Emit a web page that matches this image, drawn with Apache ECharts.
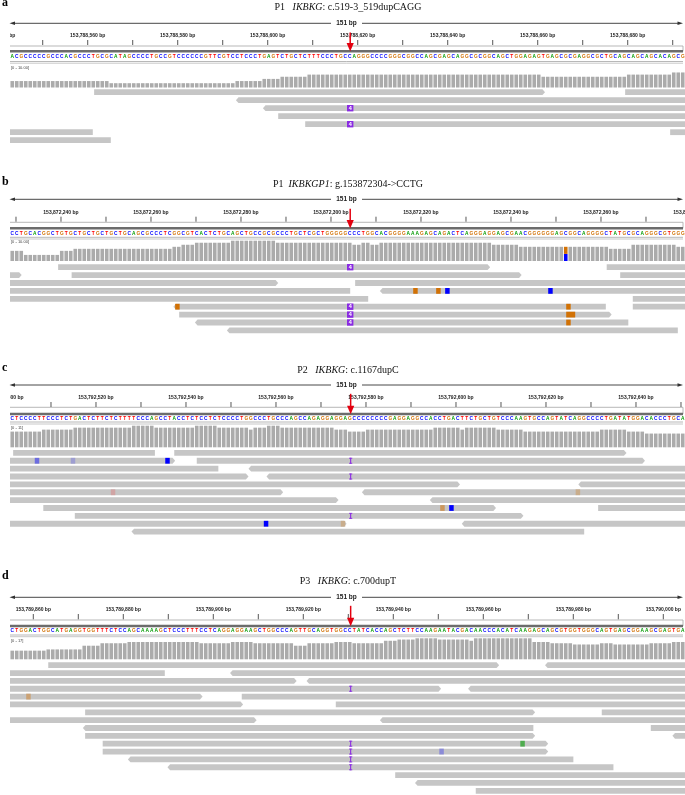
<!DOCTYPE html>
<html><head><meta charset="utf-8">
<script src="https://cdn.jsdelivr.net/npm/echarts@6/dist/echarts.min.js"></script>
<style>html,body{margin:0;padding:0;background:#fff}#c{width:685px;height:795px}</style>
</head><body><div id="c"></div>
<script>
// ---------------- DATA ----------------
const panelLetters = ['a','b','c','d'];
const titlePrefix = ['P1   ','P1  ','P2   ','P3   '];
const titleGene = ['IKBKG','IKBKGP1','IKBKG','IKBKG'];
const titleVariant = [': c.519-3_519dupCAGG',': g.153872304->CCTG',': c.1167dupC',': c.700dupT'];
const spanText = '151 bp';
const covRangeLabels = ['[0 - 10.00]','[0 - 10.00]','[0 - 11]','[0 - 17]'];
const covMax = [10,10,11,17];
// genomic coordinate at left edge of each window
const winStart = [153788542.73, 153872228.67, 153792500.89, 153789854.82];
const mutationPos = [75.6, 75.6, 75.7, 75.7];   // bp offset of red arrow
const insLength = [4,4,1,1];

const rulerLabelsA = [153788540,153788560,153788580,153788600,153788620,153788640,153788660,153788680];
const rulerLabelsB = [153872240,153872260,153872280,153872300,153872320,153872340,153872360,153872380];
const rulerLabelsC = [153792500,153792520,153792540,153792560,153792580,153792600,153792620,153792640];
const rulerLabelsD = [153789860,153789880,153789900,153789920,153789940,153789960,153789980,153790000];
const rulerTicksA = [153788550,153788560,153788570,153788580,153788590,153788600,153788610,153788620,153788630,153788640,153788650,153788660,153788670,153788680,153788690];
const rulerTicksB = [153872230,153872240,153872250,153872260,153872270,153872280,153872290,153872300,153872310,153872320,153872330,153872340,153872350,153872360,153872370];
const rulerTicksC = [153792510,153792520,153792530,153792540,153792550,153792560,153792570,153792580,153792590,153792600,153792610,153792620,153792630,153792640,153792650];
const rulerTicksD = [153789860,153789870,153789880,153789890,153789900,153789910,153789920,153789930,153789940,153789950,153789960,153789970,153789980,153789990,153790000];

const seqA = ['ACGCCCCCGC','CCACGCCCTG','CGCATAGCCC','CTGCCGTCCC','CCCGTTCGTC','CTCCCTGAGT','CTGCTCTTTC','CCTGCCAGGG','CCCCGGGCGG','CCAGCGAGCA','GGCGCGGCAG','CTGGAGAGTG','AGCGCGAGGC','GCTGCAGCAG','CAGCACAGCG'].join('');
const seqB = ['CCTGCACGGC','TGTGCTGCTG','CTGCTGCAGC','GCCCTCGGCG','TCACTCTGCA','GCTGCCGCGC','CCTGCTCGCT','GGGGGCCCTG','GCACGGGGAA','AGAGCAGACT','CAGGGAGGAG','CGAACGGGGG','GAGCGGCAGG','GGCTATGCGC','AGGGCGTGGG'].join('');
const seqC = ['CTCCCCTTCC','CTCTGACTCT','TCTCTTTTCC','CAGCCTACCT','CTCCTCTCCC','CTGGCCCTGC','CCAGCCAGAG','GAGGAGCCCC','CCCCGAGGAG','GCCACCTGAC','TTCTGCTGTC','CCAAGTGCCA','GTATCAGGCC','CCTGATATGG','ACACCCTGCA'].join('');
const seqD = ['CTGGACTGGC','ATGAGGTGGT','TTCTCCAGCA','AAAGCTCCCT','TTCCTCAGGA','GGAAGCTGGC','CCAGTTGCAG','GTGGCCTATC','ACCAGCTCTT','CCAAGAATAC','GACAACCCAC','ATCAAGAGCA','GCGTGGTGGG','CAGTGAGCGG','AAGCGAGTGA'].join('');

// coverage runs [startBp, endBp, depth]
const covA = [[0,22,3],[22,50,2],[50,56,3],[56,60,4],[60,66,5],[66,118,6],[118,137,5],[137,147,6],[147,150,7]];
const covB = [[0,3,5],[3,11,3],[11,14,5],[14,36,6],[36,38,7],[38,41,8],[41,49,9],[49,59,10],[59,74,9],[74,76,9],[76,78,8],[78,80,9],[80,82,8],[82,107,9],[107,113,8],[113,123,7],[124,133,7],[133,138,6],[138,148,8],[148,150,7]];
const covC = [[0,7,8],[7,14,9],[14,27,10],[27,32,11],[32,41,10],[41,46,11],[46,53,10],[53,54,9],[54,57,10],[57,60,11],[60,72,10],[72,75,9],[75,79,8],[79,94,9],[94,100,10],[100,101,9],[101,108,10],[108,114,9],[114,131,8],[131,137,9],[137,141,8],[141,150,7]];
const covD = [[0,8,7],[8,16,8],[16,20,11],[20,26,13],[26,42,14],[42,49,13],[49,54,14],[54,63,13],[63,66,11],[66,72,13],[72,76,14],[76,83,13],[83,86,15],[86,90,16],[90,95,17],[95,102,16],[102,103,15],[103,116,17],[116,120,14],[120,125,13],[125,131,12],[131,134,13],[134,142,12],[142,147,13],[147,150,14]];
// coverage allele split [bp, base, from, to]
const alleleA = [];
const alleleB = [[123,'C',0,3.5],[123,'G',3.5,7]];
const alleleC = [];
const alleleD = [];

// reads [row, start, end, strand(1 fwd, -1 rev, 0 none)]
const readsA = [[0,18.7,118.9,1],[0,136.7,150,0],[1,50.2,150,-1],[2,56.2,150,-1],[3,59.6,150,0],[4,65.6,150,0],[5,0,18.4,0],[5,146.7,150,0],[6,0,22.4,0]];
const readsB = [[0,10.7,106.7,1],[0,132.6,150,0],[1,0,2.6,1],[1,13.7,113.7,1],[1,135.6,150,0],[2,0,59.6,1],[2,76.7,150,0],[3,0,75.6,0],[3,82.2,150,-1],[4,0,79.6,0],[4,138.4,150,0],[5,36.3,132.4,-1],[5,138.4,150,0],[6,37.6,133.7,1],[7,41.1,137.4,-1],[8,48.2,148.4,-1]];
const readsC = [[0,0.7,32.2,0],[0,36.5,137.0,1],[1,0,36.7,1],[1,41.5,141.1,1],[2,0,46.3,0],[2,53,150,-1],[3,0,53,1],[3,57,150,-1],[4,0,100,1],[4,126.3,150,-1],[5,0,60.7,1],[5,78.2,150,-1],[6,0,73,1],[6,93.3,150,-1],[7,7.4,108,1],[7,130.7,150,0],[8,14.4,114.1,1],[9,0,74.8,1],[9,100.4,150,-1],[10,27,127.6,-1]];
const readsD = [[0,8.5,108.7,1],[0,118.9,150,-1],[1,0,34.4,0],[1,48.9,150,-1],[2,0,63.7,1],[2,65.9,150,-1],[3,0,95.8,1],[3,101.8,150,-1],[4,0,42.8,1],[4,51.5,150,0],[5,0,51.8,1],[5,72.4,150,0],[6,16.7,116.7,1],[6,131.5,150,0],[7,0,54.8,1],[7,82.2,150,-1],[8,16.2,116.3,-1],[8,142.4,150,0],[9,16.7,116.7,1],[9,147.2,150,-1],[10,20.6,119.6,1],[11,20.6,119.6,1],[12,26.2,125.2,-1],[13,35,134.1,-1],[14,85.6,150,0],[15,90,150,-1],[16,103.5,150,0]];

// insertions [row, bp]
const insA = [[2,75.6],[4,75.6]];
const insB = [[0,75.6],[5,75.6],[6,75.6],[7,75.6]];
const insC = [[1,75.7],[3,75.7],[8,75.7]];
const insD = [[3,75.7],[10,75.7],[11,75.7],[12,75.7],[13,75.7]];

// mismatches [row, bp, widthBp, base, quality]
const mmA = [];
const mmB = [[3,89.6,1,'G',1],[3,94.7,1,'G',1],[3,96.7,1,'C',1],[3,119.6,1,'C',1],[5,36.7,1,'G',1],[5,123.6,1,'G',1],[6,123.6,2,'G',1],[7,123.6,1,'G',1]];
const mmC = [[1,5.5,1,'C',0.45],[1,13.5,1,'C',0.2],[1,34.5,1,'C',1],[5,22.4,1,'T',0.17],[5,125.7,1,'G',0.3],[7,95.6,1,'G',0.55],[7,97.6,1,'C',1],[9,56.4,1,'C',1],[9,73.5,1,'G',0.3]];
const mmD = [[4,3.6,1,'G',0.42],[10,113.4,1,'A',0.6],[11,95.4,1,'C',0.3]];

// ---------------- LAYOUT / STYLE ----------------
const LAY = [
 {letter:3.2, title:7.5, span:23.3, tickLab:36, tickT:40, tickB:45, base:46, seqBar:51.3, seq:57, seqL1:61.5, seqL2:63.2, covLab:68, covTop:66, covBase:87.5, row0:89.3, step:8},
 {letter:181.8, title:184.8, span:199.3, tickLab:212.3, tickT:216.7, tickB:221.7, base:222.3, seqBar:228.3, seq:233.3, seqL1:237.3, seqL2:239, covLab:242.3, covTop:240.7, covBase:261, row0:264.3, step:7.9},
 {letter:367.5, title:370.5, span:385, tickLab:397.3, tickT:402, tickB:407, base:407.3, seqBar:414, seq:418.3, seqL1:422, seqL2:424, covLab:427.7, covTop:425.7, covBase:447.3, row0:450, step:7.87},
 {letter:575.8, title:581.5, span:597.3, tickLab:609.3, tickT:614, tickB:619.3, base:620, seqBar:626, seq:631, seqL1:635, seqL2:636.7, covLab:640.7, covTop:638.3, covBase:659.3, row0:662.3, step:7.85}
];
const RH = 5.8;
const BASE_COL = {A:'#009a00', C:'#0000ff', G:'#d17105', T:'#ff0000'};
const READ_COL = '#c6c6c6';
const COV_COL = '#ababab';
const INS_COL = '#8a2be2';
const ARROW_COL = '#e3000f';
const SANS = '"Liberation Sans", Arial, sans-serif';
const SERIF = '"Liberation Serif", "Times New Roman", serif';

const RULER_LABELS = [rulerLabelsA, rulerLabelsB, rulerLabelsC, rulerLabelsD];
const RULER_TICKS = [rulerTicksA, rulerTicksB, rulerTicksC, rulerTicksD];
const SEQS = [seqA, seqB, seqC, seqD];
const COVS = [covA, covB, covC, covD];
const ALLELES = [alleleA, alleleB, alleleC, alleleD];
const READS = [readsA, readsB, readsC, readsD];
const INSS = [insA, insB, insC, insD];
const MMS = [mmA, mmB, mmC, mmD];

function blend(hex, a) {
  const c = parseInt(hex.slice(1), 16);
  const r = (c >> 16) & 255, g = (c >> 8) & 255, b = c & 255, R = 198;
  return 'rgb(' + Math.round(R + (r - R) * a) + ',' + Math.round(R + (g - R) * a) + ',' + Math.round(R + (b - R) * a) + ')';
}
function fmt(g) { return g.toLocaleString('en-US') + ' bp'; }

// ---------------- ITEMS ----------------
const it = {ticks:[], rlab:[], seq:[], cov:[], allele:[], reads:[], mm:[], ins:[], arrow:[]};
for (let p = 0; p < 4; p++) {
  const L = LAY[p];
  RULER_TICKS[p].forEach(g => it.ticks.push({p, x: g - winStart[p]}));
  RULER_LABELS[p].forEach(g => it.rlab.push({p, x: g - winStart[p], t: fmt(g)}));
  SEQS[p].split('').forEach((ch, k) => it.seq.push({p, x: k + 0.5, ch}));
  COVS[p].forEach(([s, e, v]) => { for (let k = s; k < e; k++) it.cov.push({p, x: k, v}); });
  ALLELES[p].forEach(([k, b, lo, hi]) => it.allele.push({p, x: k, b, lo, hi}));
  READS[p].forEach(([row, s, e, st]) => it.reads.push({p, row, s, e, st}));
  MMS[p].forEach(([row, x, w, b, q]) => it.mm.push({p, row, x, w, b, q}));
  INSS[p].forEach(([row, x]) => it.ins.push({p, row, x, n: insLength[p]}));
  it.arrow.push({p, x: mutationPos[p]});
}

function cs(list, xy, draw, z) {
  return {type:'custom', coordinateSystem:'cartesian2d', clip:true, silent:true, z:z,
    data: list.map(xy),
    renderItem: (params, api) => draw(list[params.dataIndex], api)};
}
function covY(o, v) { const L = LAY[o.p]; return L.covBase - (L.covBase - L.covTop) * v / covMax[o.p]; }

const series = [
  cs(it.ticks, o => [o.x, LAY[o.p].tickT], (o, api) => {
    const L = LAY[o.p]; const a = api.coord([o.x, L.tickT]), b = api.coord([o.x, L.tickB]);
    return {type:'line', shape:{x1:a[0], y1:a[1], x2:b[0], y2:b[1]}, style:{stroke:'#444', lineWidth:0.9}};
  }, 2),
  cs(it.rlab, o => [o.x, LAY[o.p].tickLab], (o, api) => {
    const a = api.coord([o.x, LAY[o.p].tickLab]);
    return {type:'text', x:a[0], y:a[1], style:{text:o.t, fill:'#222', font:'bold 5px ' + SANS, textAlign:'center', textVerticalAlign:'middle'}};
  }, 2),
  cs(it.seq, o => [o.x, LAY[o.p].seq], (o, api) => {
    const a = api.coord([o.x, LAY[o.p].seq]);
    return {type:'text', x:a[0], y:a[1], style:{text:o.ch, fill:BASE_COL[o.ch], font:'bold 4.8px ' + SANS, textAlign:'center', textVerticalAlign:'middle'}};
  }, 2),
  cs(it.cov, o => [o.x, covY(o, o.v)], (o, api) => {
    const L = LAY[o.p]; const a = api.coord([o.x, covY(o, o.v)]), b = api.coord([o.x + 1, L.covBase]);
    return {type:'rect', shape:{x:a[0] + 0.45, y:a[1], width:b[0] - a[0] - 0.9, height:b[1] - a[1]}, style:{fill:COV_COL}};
  }, 2),
  cs(it.allele, o => [o.x, covY(o, o.hi)], (o, api) => {
    const a = api.coord([o.x, covY(o, o.hi)]), b = api.coord([o.x + 1, covY(o, o.lo)]);
    return {type:'rect', shape:{x:a[0] + 0.45, y:a[1], width:b[0] - a[0] - 0.9, height:b[1] - a[1]}, style:{fill:BASE_COL[o.b]}};
  }, 3),
  cs(it.reads, o => [o.s, LAY[o.p].row0 + o.row * LAY[o.p].step], (o, api) => {
    const L = LAY[o.p]; const yT = L.row0 + o.row * L.step;
    const a = api.coord([o.s, yT]), b = api.coord([o.e, yT + RH]);
    const x0 = a[0], x1 = b[0], y0 = a[1], y1 = b[1], ym = (y0 + y1) / 2, t = 2.6;
    let pts;
    if (o.st === 1) pts = [[x0,y0],[x1-t,y0],[x1,ym],[x1-t,y1],[x0,y1]];
    else if (o.st === -1) pts = [[x0+t,y0],[x1,y0],[x1,y1],[x0+t,y1],[x0,ym]];
    else pts = [[x0,y0],[x1,y0],[x1,y1],[x0,y1]];
    return {type:'polygon', shape:{points:pts}, style:{fill:READ_COL}};
  }, 2),
  cs(it.mm, o => [o.x, LAY[o.p].row0 + o.row * LAY[o.p].step], (o, api) => {
    const L = LAY[o.p]; const yT = L.row0 + o.row * L.step;
    const a = api.coord([o.x, yT]), b = api.coord([o.x + o.w, yT + RH]);
    return {type:'rect', shape:{x:a[0], y:a[1], width:b[0]-a[0], height:b[1]-a[1]}, style:{fill:blend(BASE_COL[o.b], o.q)}};
  }, 3),
  cs(it.ins, o => [o.x, LAY[o.p].row0 + o.row * LAY[o.p].step], (o, api) => {
    const L = LAY[o.p]; const yT = L.row0 + o.row * L.step;
    const a = api.coord([o.x, yT]), b = api.coord([o.x, yT + RH]);
    const cx = a[0];
    if (o.n > 1) {
      return {type:'group', children:[
        {type:'rect', shape:{x:cx-3.2, y:a[1]-0.3, width:6.4, height:b[1]-a[1]+0.6}, style:{fill:INS_COL}},
        {type:'text', x:cx, y:(a[1]+b[1])/2, style:{text:String(o.n), fill:'#fff', font:'bold 5.5px ' + SANS, textAlign:'center', textVerticalAlign:'middle'}}
      ]};
    }
    return {type:'group', children:[
      {type:'line', shape:{x1:cx, y1:a[1], x2:cx, y2:b[1]}, style:{stroke:INS_COL, lineWidth:1.1}},
      {type:'line', shape:{x1:cx-1.6, y1:a[1]+0.4, x2:cx+1.6, y2:a[1]+0.4}, style:{stroke:INS_COL, lineWidth:0.9}},
      {type:'line', shape:{x1:cx-1.6, y1:b[1]-0.4, x2:cx+1.6, y2:b[1]-0.4}, style:{stroke:INS_COL, lineWidth:0.9}}
    ]};
  }, 4),
  cs(it.arrow, o => [o.x, LAY[o.p].tickLab], (o, api) => {
    const L = LAY[o.p];
    const top = api.coord([o.x, L.tickLab - 3.5]), tip = api.coord([o.x, L.seqBar + 0.3]);
    const cx = top[0], hy = tip[1] - 8.5;
    return {type:'group', children:[
      {type:'line', shape:{x1:cx, y1:top[1], x2:cx, y2:hy+1}, style:{stroke:ARROW_COL, lineWidth:1.5}},
      {type:'polygon', shape:{points:[[cx-3.6,hy],[cx+3.6,hy],[cx,tip[1]]]}, style:{fill:ARROW_COL}}
    ]};
  }, 6)
];

// ---------------- STATIC FRAME ----------------
const graphic = [];
LAY.forEach((L, p) => {
  graphic.push({type:'text', x:2, y:L.letter, style:{text:panelLetters[p], font:'bold 12px ' + SERIF, fill:'#000', textAlign:'left', textVerticalAlign:'middle'}});
  graphic.push({type:'text', x:348, y:L.title, style:{
    text:'{n|' + titlePrefix[p] + '}{i|' + titleGene[p] + '}{n|' + titleVariant[p] + '}',
    rich:{n:{fontFamily:SERIF, fontSize:10, fill:'#111'}, i:{fontFamily:SERIF, fontSize:10, fontStyle:'italic', fill:'#111'}},
    textAlign:'center', textVerticalAlign:'middle'}});
  graphic.push({type:'line', shape:{x1:13, y1:L.span, x2:331, y2:L.span}, style:{stroke:'#333', lineWidth:0.9}});
  graphic.push({type:'line', shape:{x1:362, y1:L.span, x2:679, y2:L.span}, style:{stroke:'#333', lineWidth:0.9}});
  graphic.push({type:'polygon', shape:{points:[[9.5,L.span],[15,L.span-1.8],[15,L.span+1.8]]}, style:{fill:'#333'}});
  graphic.push({type:'polygon', shape:{points:[[683,L.span],[677.5,L.span-1.8],[677.5,L.span+1.8]]}, style:{fill:'#333'}});
  graphic.push({type:'text', x:346.5, y:L.span, style:{text:spanText, font:'bold 6.5px ' + SANS, fill:'#222', textAlign:'center', textVerticalAlign:'middle'}});
  graphic.push({type:'line', shape:{x1:10, y1:L.base, x2:683, y2:L.base}, style:{stroke:'#a5a5a5', lineWidth:0.8}});
  graphic.push({type:'line', shape:{x1:683, y1:L.base, x2:683, y2:L.seqBar}, style:{stroke:'#a5a5a5', lineWidth:0.8}});
  graphic.push({type:'rect', shape:{x:10, y:L.seqBar-1.3, width:673, height:2.6}, style:{fill:'#6c6c6c'}});
  graphic.push({type:'line', shape:{x1:10, y1:L.seqL1, x2:683, y2:L.seqL1}, style:{stroke:'#9a9a9a', lineWidth:0.7}});
  graphic.push({type:'line', shape:{x1:10, y1:L.seqL2, x2:683, y2:L.seqL2}, style:{stroke:'#b0b0b0', lineWidth:0.7}});
  graphic.push({type:'text', x:11, y:L.covLab, z:10, style:{text:covRangeLabels[p], font:'4px ' + SANS, fill:'#444', textAlign:'left', textVerticalAlign:'middle'}});
});

const chart = echarts.init(document.getElementById('c'));
chart.setOption({
  animation:false,
  backgroundColor:'#fff',
  grid:{left:10, right:0, top:0, bottom:0, outerBoundsMode:'none'},
  xAxis:{type:'value', min:0, max:150, show:false},
  yAxis:{type:'value', min:0, max:795, inverse:true, show:false},
  graphic: graphic,
  series: series
});
</script></body></html>
